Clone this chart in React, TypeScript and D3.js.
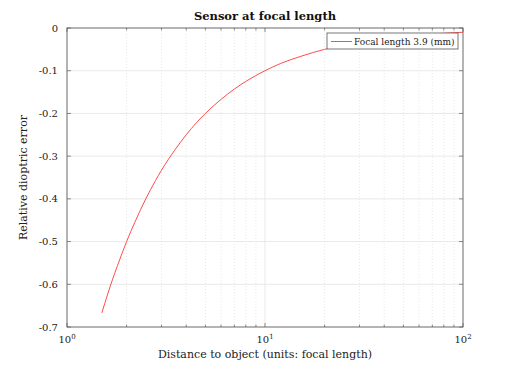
import * as d3 from "d3";
import React, { useEffect, useRef } from "react";

// distance to object (in focal lengths) and relative dioptric error
const distances = [1.5, 1.6, 1.7, 1.8, 2, 2.2, 2.5, 2.8, 3, 3.5, 4, 4.5, 5, 6, 7, 8, 10, 12, 15, 20, 25, 30, 40, 50, 60, 70, 80, 100];
const errors = [-0.667, -0.625, -0.588, -0.556, -0.5, -0.455, -0.4, -0.357, -0.333, -0.286, -0.25, -0.222, -0.2, -0.167, -0.143, -0.125, -0.1, -0.083, -0.067, -0.05, -0.04, -0.033, -0.025, -0.02, -0.017, -0.014, -0.0125, -0.01];
const yTicks = [0, -0.1, -0.2, -0.3, -0.4, -0.5, -0.6, -0.7];
const yTickLabels = ["0", "-0.1", "-0.2", "-0.3", "-0.4", "-0.5", "-0.6", "-0.7"];
const xMajor = [1, 10, 100];
const seriesName = "Focal length 3.9 (mm)";

const W = 512, H = 369;
const margin = { top: 28, right: 49, bottom: 42, left: 67 };
const font = "'DejaVu Serif', serif";

const App = () => {
  const ref = useRef<SVGSVGElement>(null);

  useEffect(() => {
    const svg = d3.select(ref.current);
    svg.selectAll("*").remove();
    const w = W - margin.left - margin.right;
    const h = H - margin.top - margin.bottom;

    const x = d3.scaleLog().domain([1, 100]).range([0, w]);
    const y = d3.scaleLinear().domain([-0.7, 0]).range([h, 0]);

    const g = svg.append("g").attr("transform", `translate(${margin.left},${margin.top})`);
    g.append("rect").attr("width", w).attr("height", h).attr("fill", "white");

    // minor grid
    const minor: number[] = [];
    for (const dec of [1, 10]) for (let k = 2; k <= 9; k++) minor.push(dec * k);
    g.selectAll(".minor").data(minor).enter().append("line")
      .attr("x1", d => x(d)).attr("x2", d => x(d)).attr("y1", 0).attr("y2", h)
      .attr("stroke", "#d8d8d8").attr("stroke-width", 0.6).attr("stroke-dasharray", "1,2");

    // major grid
    g.selectAll(".xmaj").data(xMajor).enter().append("line")
      .attr("x1", d => x(d)).attr("x2", d => x(d)).attr("y1", 0).attr("y2", h)
      .attr("stroke", "#e3e3e3").attr("stroke-width", 0.8);
    g.selectAll(".ymaj").data(yTicks).enter().append("line")
      .attr("x1", 0).attr("x2", w).attr("y1", d => y(d)).attr("y2", d => y(d))
      .attr("stroke", "#e3e3e3").attr("stroke-width", 0.8);

    // curve
    const line = d3.line<number>()
      .x((_, i) => x(distances[i]))
      .y(d => y(d))
      .curve(d3.curveMonotoneX);
    g.append("path").datum(errors).attr("d", line)
      .attr("fill", "none").attr("stroke", "#ff4d4d").attr("stroke-width", 1);

    // ticks inside
    const tickCol = "#444";
    g.selectAll(".yt").data(yTicks).enter().append("g").each(function (d) {
      const s = d3.select(this);
      s.append("line").attr("x1", 0).attr("x2", 4).attr("y1", y(d)).attr("y2", y(d)).attr("stroke", tickCol).attr("stroke-width", 0.6);
      s.append("line").attr("x1", w).attr("x2", w - 4).attr("y1", y(d)).attr("y2", y(d)).attr("stroke", tickCol).attr("stroke-width", 0.6);
    });
    g.selectAll(".xt").data([...xMajor, ...minor]).enter().append("g").each(function (d) {
      const len = xMajor.includes(d) ? 4 : 2.5;
      const s = d3.select(this);
      s.append("line").attr("x1", x(d)).attr("x2", x(d)).attr("y1", h).attr("y2", h - len).attr("stroke", tickCol).attr("stroke-width", 0.6);
      s.append("line").attr("x1", x(d)).attr("x2", x(d)).attr("y1", 0).attr("y2", len).attr("stroke", tickCol).attr("stroke-width", 0.6);
    });

    // box
    g.append("rect").attr("width", w).attr("height", h).attr("fill", "none")
      .attr("stroke", "#555").attr("stroke-width", 0.8);

    // tick labels
    g.selectAll(".yl").data(yTicks).enter().append("text")
      .attr("x", -9).attr("y", d => y(d)).attr("dy", "0.35em")
      .attr("text-anchor", "end").attr("font-family", font).attr("font-size", 10).attr("fill", "#222")
      .text((_, i) => yTickLabels[i]);
    xMajor.forEach(d => {
      const t = g.append("text").attr("x", x(d)).attr("y", h + 16)
        .attr("text-anchor", "middle").attr("font-family", font).attr("font-size", 10).attr("fill", "#222");
      t.append("tspan").text("10");
      t.append("tspan").attr("dy", -4).attr("font-size", 7).text(String(Math.round(Math.log10(d))));
    });

    // labels
    g.append("text").attr("x", w / 2).attr("y", -8).attr("text-anchor", "middle")
      .attr("font-family", font).attr("font-size", 11.5).attr("font-weight", "bold").attr("fill", "#111")
      .text("Sensor at focal length");
    g.append("text").attr("x", w / 2).attr("y", h + 31).attr("text-anchor", "middle")
      .attr("font-family", font).attr("font-size", 11).attr("fill", "#222")
      .text("Distance to object (units: focal length)");
    g.append("text").attr("transform", `translate(${-40},${h / 2}) rotate(-90)`).attr("text-anchor", "middle")
      .attr("font-family", font).attr("font-size", 11).attr("fill", "#222")
      .text("Relative dioptric error");

    // legend
    const lg = g.append("g").attr("transform", `translate(${w - 136},5)`);
    lg.append("rect").attr("width", 131).attr("height", 16).attr("fill", "white")
      .attr("stroke", "#555").attr("stroke-width", 0.8);
    lg.append("line").attr("x1", 4).attr("x2", 25).attr("y1", 8.5).attr("y2", 8.5)
      .attr("stroke", "#ff4d4d").attr("stroke-width", 1);
    lg.append("text").attr("x", 27).attr("y", 8.5).attr("dy", "0.35em")
      .attr("font-family", font).attr("font-size", 9).attr("fill", "#222").text(seriesName);
  }, []);

  return <svg ref={ref} width={W} height={H} style={{ position: "absolute", left: 0, top: 0 }} />;
};

export default App;
